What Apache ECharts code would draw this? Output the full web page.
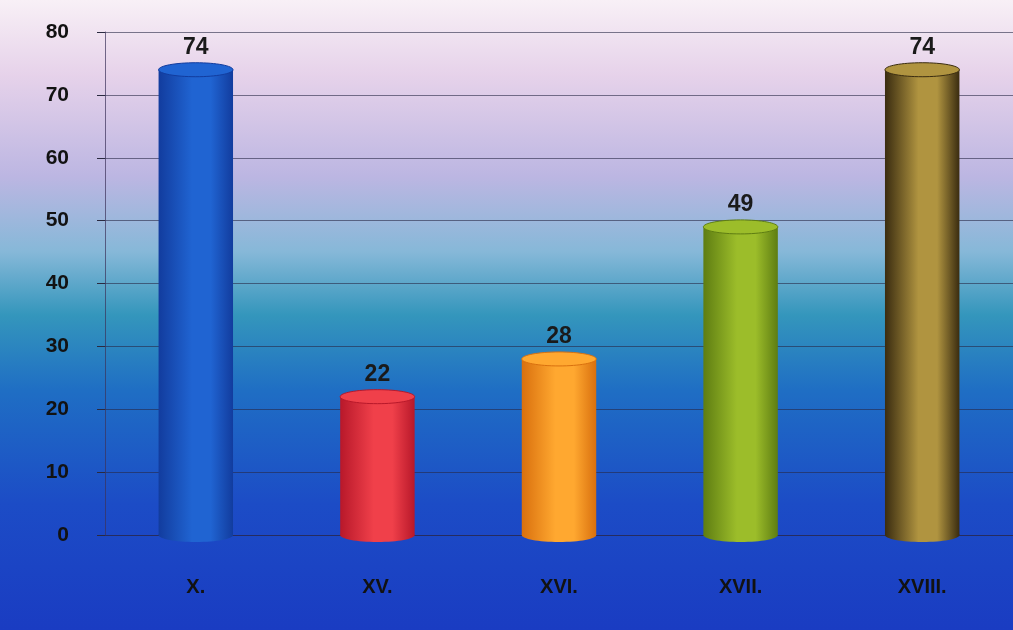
<!DOCTYPE html>
<html>
<head>
<meta charset="utf-8">
<script src="https://cdn.jsdelivr.net/npm/echarts@6/dist/echarts.min.js"></script>
<style>
  html, body { margin: 0; padding: 0; }
  #chart { width: 1013px; height: 630px; }
</style>
</head>
<body>
<div id="chart"></div>
<script>
// 세기별 값
const categories = ['X.', 'XV.', 'XVI.', 'XVII.', 'XVIII.'];
const values     = [74, 22, 28, 49, 74];
// 원통 색 (가장자리, 가운데)
const edgeColors = ['#123c9e', '#b8182a', '#d9700e', '#5e7d12', '#3a2c10'];
const midColors  = ['#2064d2', '#f0404a', '#ffa830', '#9cbd2a', '#b09440'];
const yTicks     = [0, 10, 20, 30, 40, 50, 60, 70, 80];

var myChart = echarts.init(document.getElementById('chart'));

//원통 그리기
function renderCylinder(params, api) {
	const idx   = api.value(0);
	const val   = api.value(1);
	const top   = api.coord([idx, val]);
	const base  = api.coord([idx, 0]);
	const w     = api.size([1, 0])[0] * 0.41;
	const x     = top[0] - w / 2;
	const ry    = 7;
	const fill  = new echarts.graphic.LinearGradient(0, 0, 1, 0, [
		{ offset: 0,    color: edgeColors[idx] },
		{ offset: 0.45, color: midColors[idx] },
		{ offset: 0.7,  color: midColors[idx] },
		{ offset: 1,    color: edgeColors[idx] }
	]);

	return {
		type: 'group',
		children: [
			{
				type: 'rect',
				shape: { x: x, y: top[1], width: w, height: base[1] - top[1] },
				style: { fill: fill }
			},
			{
				type: 'ellipse',
				shape: { cx: top[0], cy: base[1], rx: w / 2, ry: ry },
				style: { fill: fill }
			},
			{
				type: 'ellipse',
				shape: { cx: top[0], cy: top[1], rx: w / 2, ry: ry },
				style: { fill: midColors[idx], stroke: edgeColors[idx], lineWidth: 1 }
			},
			{
				type: 'text',
				style: {
					text: String(val),
					x: top[0],
					y: top[1] - ry - 4,
					align: 'center',
					verticalAlign: 'bottom',
					fill: '#1a1a1a',
					font: 'bold 23px "Liberation Sans", Arial, sans-serif'
				}
			}
		]
	};
}

var option = {
	backgroundColor: new echarts.graphic.LinearGradient(0, 0, 0, 1, [
		{ offset: 0,    color: '#f8f0f6' },
		{ offset: 0.12, color: '#e6d2ea' },
		{ offset: 0.28, color: '#bcb6e2' },
		{ offset: 0.40, color: '#86b8d8' },
		{ offset: 0.50, color: '#3496bc' },
		{ offset: 0.62, color: '#1f6ec4' },
		{ offset: 0.80, color: '#1c4cc6' },
		{ offset: 1,    color: '#1a3cc2' }
	]),
	animation: false,
	grid: {
		left: 105,
		right: 0,
		top: 32,
		bottom: 95
	},
	xAxis: {
		type: 'category',
		data: categories,
		axisLine: { show: true, lineStyle: { color: 'rgba(40,40,80,0.6)', width: 1 } },
		axisTick: { show: false },
		axisLabel: {
			margin: 42,
			color: '#121212',
			fontWeight: 'bold',
			fontSize: 20,
			fontFamily: '"Liberation Sans Narrow", "Liberation Sans", Arial, sans-serif'
		}
	},
	yAxis: {
		type: 'value',
		min: 0,
		max: 80,
		interval: 10,
		axisLine: { show: true, lineStyle: { color: 'rgba(60,50,90,0.7)', width: 1 } },
		axisTick: { show: true, length: 8, lineStyle: { color: '#2a2a40' } },
		splitLine: { show: true, lineStyle: { color: 'rgba(40,40,70,0.6)', width: 1.2 } },
		axisLabel: {
			margin: 36,
			color: '#121212',
			fontWeight: 'bold',
			fontSize: 21,
			fontFamily: '"Liberation Sans", Arial, sans-serif',
			formatter: function (v) { return yTicks.indexOf(v) >= 0 ? String(v) : ''; }
		}
	},
	series: [
		{
			type: 'custom',
			renderItem: renderCylinder,
			encode: { x: 0, y: 1 },
			data: values.map((v, i) => [i, v])
		}
	]
};

myChart.setOption(option);
</script>
</body>
</html>
